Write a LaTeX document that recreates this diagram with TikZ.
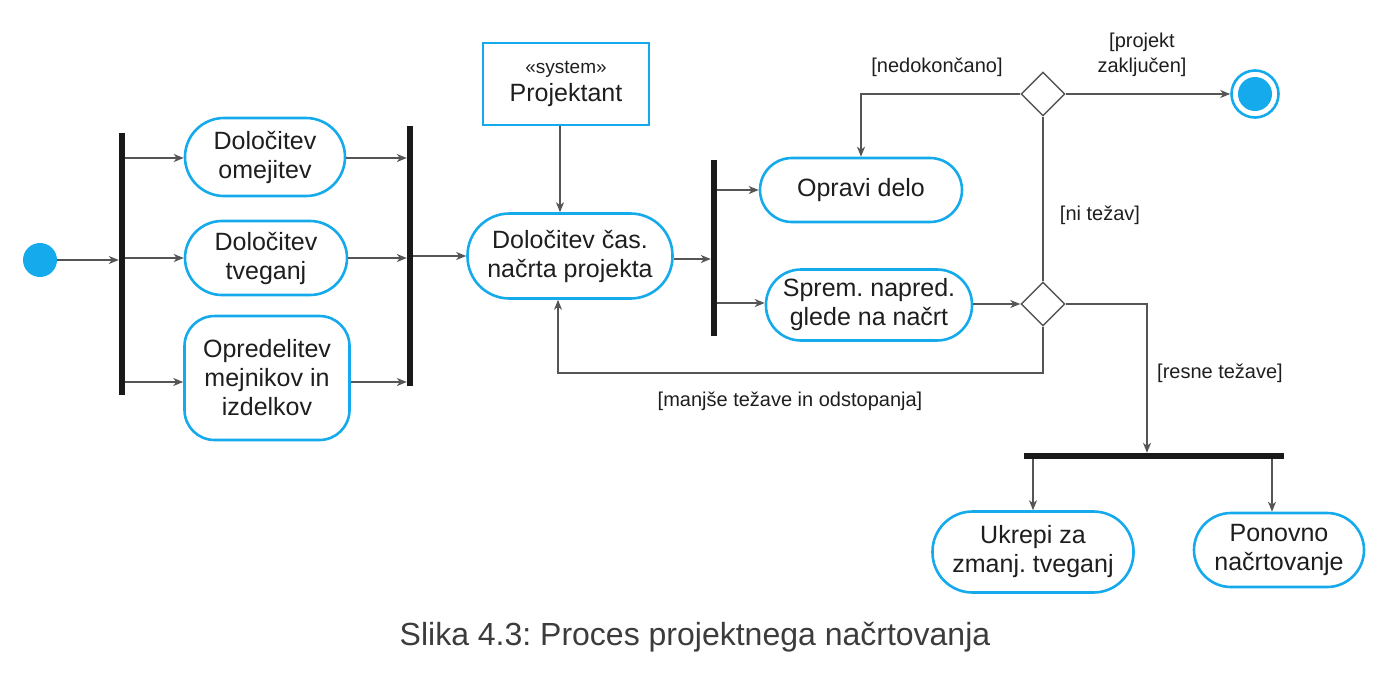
\documentclass[tikz,border=0pt]{standalone}
\usepackage{fontspec}
\setmainfont{Liberation Sans}
\usetikzlibrary{shapes.geometric,arrows.meta,calc}
\frenchspacing
\definecolor{umlblue}{RGB}{20,170,235}
\definecolor{linegray}{RGB}{85,85,85}
\definecolor{txt}{RGB}{30,30,30}
\definecolor{captxt}{RGB}{60,60,60}
\tikzset{
  act/.style={draw=umlblue, line width=2.6pt, fill=white, align=center, inner sep=0pt,
    text=txt, font=\fontsize{25}{29}\selectfont},
  bar/.style={fill=black!90, inner sep=0pt, draw=none},
  arr/.style={draw=linegray, line width=1.4pt, -{Stealth[length=10pt,width=8pt,inset=3pt]}},
  ln/.style={draw=linegray, line width=1.4pt},
  dec/.style={diamond, draw=linegray, line width=1.4pt, fill=white, minimum width=44pt, minimum height=44pt, inner sep=0pt, aspect=1},
  lab/.style={text=txt, font=\fontsize{20}{25}\selectfont, align=center, inner sep=0pt}
}
\begin{document}
\begin{tikzpicture}[x=1pt,y=-1pt]
\useasboundingbox (0,0) rectangle (1390,686);
% initial
\node[circle, fill=umlblue, minimum size=34pt, inner sep=0pt] (init) at (40,260) {};
% fork 1
\node[bar, minimum width=6pt, minimum height=262pt] (f1) at (122,264) {};
\node[act, minimum width=160pt, minimum height=78pt, rounded corners=39pt] (o1) at (265,157) {Določitev\\omejitev};
\node[act, minimum width=162pt, minimum height=74pt, rounded corners=37pt] (o2) at (266,258) {Določitev\\tveganj};
\node[act, minimum width=165pt, minimum height=124pt, rounded corners=30pt] (o3) at (267,378) {Opredelitev\\mejnikov in\\izdelkov};
% join
\node[bar, minimum width=6pt, minimum height=260pt] (j1) at (410,256) {};
% system
\node[draw=umlblue, line width=2.6pt, minimum width=166pt, minimum height=82pt, inner sep=0pt, align=center, text=txt] (sys) at (566,84)
  {{\fontsize{19}{22}\selectfont «system»}\\[5pt]{\fontsize{25}{29}\selectfont Projektant}};
\node[act, minimum width=205pt, minimum height=85pt, rounded corners=42pt] (cas) at (570,256) {Določitev čas.\\načrta projekta};
% fork 2
\node[bar, minimum width=6pt, minimum height=176pt] (f2) at (714,248) {};
\node[act, minimum width=202pt, minimum height=64pt, rounded corners=32pt] (opr) at (861,190) {Opravi delo};
\node[act, minimum width=206pt, minimum height=71pt, rounded corners=35pt] (spr) at (869,305) {Sprem. napred.\\glede na načrt};
% decisions
\node[dec] (d1) at (1043,94) {};
\node[dec] (d2) at (1043,304) {};
% final
\node[circle, draw=umlblue, line width=2.6pt, fill=white, minimum size=47pt, inner sep=0pt] (fin) at (1255,94) {};
\fill[umlblue] (fin.center) circle (17pt);
% fork 3
\node[bar, minimum width=260pt, minimum height=6pt] (f3) at (1154,456) {};
\node[act, minimum width=201pt, minimum height=81pt, rounded corners=40pt] (uk) at (1033,552) {Ukrepi za\\zmanj. tveganj};
\node[act, minimum width=170pt, minimum height=74pt, rounded corners=37pt] (pon) at (1279,550) {Ponovno\\načrtovanje};
% connectors
\draw[arr] (init) -- (init -| f1.west);
\draw[arr] ([yshift=-1pt]o1.west -| f1.east) -- ([yshift=-1pt]o1.west);
\draw[arr] (o2.west -| f1.east) -- (o2.west);
\draw[arr] ([yshift=-4pt]o3.west -| f1.east) -- ([yshift=-4pt]o3.west);
\draw[arr] ([yshift=-1pt]o1.east) -- ([yshift=-1pt]o1.east -| j1.west);
\draw[arr] (o2.east) -- (o2.east -| j1.west);
\draw[arr] ([yshift=-4pt]o3.east) -- ([yshift=-4pt]o3.east -| j1.west);
\draw[arr] (cas.west -| j1.east) -- (cas.west);
\coordinate (sx) at (560,0);
\draw[arr] (sx |- sys.south) -- (sx |- cas.north);
\draw[arr] ([yshift=-3pt]cas.east) -- ([yshift=-3pt]cas.east -| f2.west);
\draw[arr] (opr.west -| f2.east) -- (opr.west);
\draw[arr] ([yshift=2pt]spr.west -| f2.east) -- ([yshift=2pt]spr.west);
\draw[arr] (spr.east |- d2.west) -- (d2.west);
\draw[ln] (d2.north) -- (d1.south);
\draw[arr] (d1.east) -- (fin.west);
\draw[arr] (d1.west) -| (opr.north);
\coordinate (fb) at (558,373);
\draw[arr] (d2.south) |- (fb) -- (fb |- cas.south);
\coordinate (rk) at (1147,0);
\draw[arr] (d2.east) -| (rk |- f3.north);
\draw[arr] (uk.north |- f3.south) -- (uk.north);
\coordinate (pk) at (1272,0);
\draw[arr] (pk |- f3.south) -- (pk |- pon.north);
% labels
\node[lab] (l1) at (937,67) {[nedokončano]};
\node[lab] (l2) at (1142,55) {[projekt\\zaključen]};
\node[lab] (l3) at (1100,215) {[ni težav]};
\node[lab] (l4) at (790,401) {[manjše težave in odstopanja]};
\node[lab] (l5) at (1220,373) {[resne težave]};
% caption
\node[text=captxt, font=\fontsize{32}{36}\selectfont, inner sep=0pt] (cap) at (695,637) {Slika 4.3: Proces projektnega načrtovanja};
\end{tikzpicture}
\end{document}
